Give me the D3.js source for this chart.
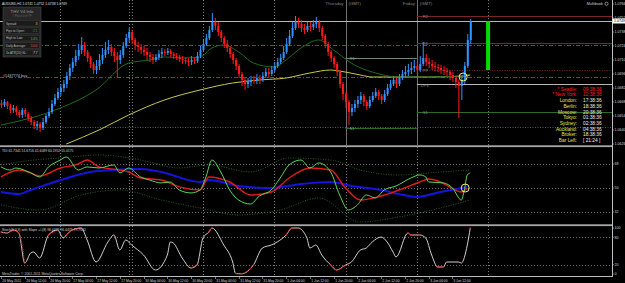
<!DOCTYPE html>
<html>
<head>
<meta charset="utf-8">
<script src="https://cdn.jsdelivr.net/npm/d3@7"></script>
<style>
html, body { margin: 0; padding: 0; background: #000; overflow: hidden; }
svg { display: block; font-family: "Liberation Sans", Arial, sans-serif; }
</style>
</head>
<body>
<div id="chart"></div>
<script>
// ---------- data ----------
const header = 'AUDUSD,H1  1.0741 1.0752 1.0738 1.0749'
const firstOpen = 1.0667
// H1 bars, 26 May 04:00 -> 3 Jun 18:00
const closes = [
  1.0665,1.0668,1.0664,1.0660,1.0662,1.0658,1.0655,1.0660,
  1.0656,1.0652,1.0648,1.0644,1.0646,1.0642,1.0648,1.0654,
  1.0658,1.0666,1.0672,1.0678,1.0682,1.0686,1.0694,1.0702,
  1.0708,1.0714,1.0720,1.0725,1.0718,1.0712,1.0706,1.0700,
  1.0704,1.0710,1.0715,1.0720,1.0723,1.0718,1.0714,1.0710,
  1.0715,1.0724,1.0732,1.0738,1.0730,1.0725,1.0723,1.0720,
  1.0718,1.0715,1.0713,1.0710,1.0713,1.0716,1.0718,1.0717,
  1.0719,1.0716,1.0714,1.0713,1.0711,1.0710,1.0709,1.0708,
  1.0710,1.0709,1.0714,1.0720,1.0726,1.0732,1.0740,1.0748,
  1.0744,1.0738,1.0732,1.0726,1.0722,1.0716,1.0710,1.0704,
  1.0696,1.0690,1.0686,1.0688,1.0690,1.0689,1.0692,1.0690,
  1.0694,1.0698,1.0696,1.0700,1.0704,1.0708,1.0712,1.0718,
  1.0726,1.0734,1.0742,1.0748,1.0746,1.0742,1.0740,1.0744,
  1.0743,1.0746,1.0748,1.0742,1.0734,1.0726,1.0718,1.0712,
  1.0706,1.0698,1.0686,1.0676,1.0668,1.0658,1.0662,1.0666,
  1.0670,1.0674,1.0668,1.0664,1.0670,1.0674,1.0678,1.0674,
  1.0670,1.0676,1.0682,1.0686,1.0690,1.0686,1.0692,1.0696,
  1.0698,1.0700,1.0702,1.0704,1.0700,1.0706,1.0712,1.0708,
  1.0706,1.0704,1.0703,1.0702,1.0700,1.0699,1.0698,1.0695,
  1.0692,1.0688,1.0684,1.0690,1.0704,1.0730,1.0749
]
const highs = [
  1.0670,1.0671,1.0669,1.0666,1.0665,1.0664,1.0660,1.0662,
  1.0662,1.0658,1.0654,1.0650,1.0649,1.0648,1.0652,1.0656,
  1.0662,1.0670,1.0676,1.0682,1.0686,1.0690,1.0698,1.0706,
  1.0712,1.0720,1.0726,1.0733,1.0728,1.0720,1.0714,1.0708,
  1.0710,1.0716,1.0722,1.0728,1.0730,1.0726,1.0722,1.0718,
  1.0720,1.0728,1.0736,1.0742,1.0740,1.0732,1.0728,1.0726,
  1.0724,1.0722,1.0718,1.0716,1.0716,1.0720,1.0722,1.0721,
  1.0722,1.0721,1.0718,1.0717,1.0715,1.0714,1.0713,1.0712,
  1.0714,1.0713,1.0718,1.0724,1.0730,1.0736,1.0744,1.0757,
  1.0752,1.0748,1.0740,1.0734,1.0730,1.0724,1.0718,1.0712,
  1.0706,1.0698,1.0692,1.0692,1.0694,1.0694,1.0696,1.0695,
  1.0698,1.0702,1.0702,1.0704,1.0708,1.0712,1.0716,1.0724,
  1.0732,1.0740,1.0748,1.0754,1.0752,1.0750,1.0746,1.0748,
  1.0748,1.0750,1.0753,1.0750,1.0744,1.0736,1.0728,1.0720,
  1.0714,1.0708,1.0700,1.0688,1.0678,1.0670,1.0666,1.0670,
  1.0674,1.0678,1.0676,1.0670,1.0674,1.0678,1.0682,1.0680,
  1.0676,1.0680,1.0686,1.0690,1.0694,1.0692,1.0696,1.0700,
  1.0704,1.0706,1.0708,1.0710,1.0708,1.0714,1.0728,1.0716,
  1.0712,1.0710,1.0708,1.0706,1.0705,1.0704,1.0702,1.0700,
  1.0698,1.0694,1.0690,1.0694,1.0708,1.0736,1.0751
]
const lows = [
  1.0662,1.0663,1.0661,1.0657,1.0657,1.0655,1.0652,1.0652,
  1.0653,1.0649,1.0645,1.0641,1.0640,1.0638,1.0640,1.0646,
  1.0652,1.0656,1.0664,1.0670,1.0674,1.0678,1.0682,1.0690,
  1.0698,1.0704,1.0710,1.0716,1.0714,1.0708,1.0702,1.0696,
  1.0696,1.0700,1.0706,1.0712,1.0716,1.0714,1.0708,1.0693,
  1.0706,1.0712,1.0722,1.0728,1.0726,1.0720,1.0718,1.0716,
  1.0714,1.0710,1.0708,1.0706,1.0708,1.0710,1.0712,1.0714,
  1.0715,1.0713,1.0711,1.0710,1.0708,1.0706,1.0706,1.0704,
  1.0705,1.0706,1.0707,1.0712,1.0718,1.0724,1.0730,1.0738,
  1.0740,1.0734,1.0728,1.0722,1.0718,1.0712,1.0706,1.0700,
  1.0692,1.0684,1.0680,1.0682,1.0684,1.0686,1.0686,1.0686,
  1.0688,1.0692,1.0692,1.0694,1.0698,1.0702,1.0706,1.0710,
  1.0716,1.0724,1.0732,1.0740,1.0742,1.0738,1.0736,1.0738,
  1.0739,1.0740,1.0742,1.0738,1.0730,1.0722,1.0714,1.0708,
  1.0702,1.0694,1.0682,1.0670,1.0662,1.0645,1.0654,1.0658,
  1.0662,1.0666,1.0664,1.0660,1.0662,1.0668,1.0672,1.0670,
  1.0666,1.0668,1.0674,1.0680,1.0684,1.0682,1.0684,1.0690,
  1.0692,1.0694,1.0696,1.0698,1.0696,1.0698,1.0704,1.0704,
  1.0702,1.0700,1.0699,1.0698,1.0696,1.0695,1.0694,1.0690,
  1.0688,1.0682,1.0652,1.0670,1.0686,1.0702,1.0726
]
const timeLabels = ['26 May 2011','26 May 12:00','26 May 20:00','27 May 04:00','27 May 12:00','27 May 20:00',
  '30 May 04:00','30 May 12:00','30 May 20:00','31 May 04:00','31 May 12:00','31 May 20:00',
  '1 Jun 04:00','1 Jun 12:00','1 Jun 20:00','2 Jun 04:00','2 Jun 12:00','2 Jun 20:00','3 Jun 04:00','3 Jun 12:00']
const daySeparators = [20, 43, 44, 68, 92, 116, 140, 164]
const priceTicks = [1.0766, 1.0752, 1.0738, 1.0724, 1.0710, 1.0696, 1.0682, 1.0668, 1.0654, 1.0640, 1.0626]

// moving averages [bar, price]
const maGreen = [[0,1.0645],[10,1.0652],[20,1.0662],[32,1.0680],[43,1.0707],[50,1.0710],[55,1.0713],[62,1.0712],
  [67,1.0713],[71,1.0722],[75,1.0725],[80,1.0718],[85,1.0707],[92,1.0703],[96,1.0710],[101,1.0722],[107,1.0730],
  [112,1.0720],[119,1.0705],[125,1.0698],[134,1.0693],[144,1.0693],[155,1.0694],[158,1.0696]]
const maYellow = [[22,1.0626],[33,1.0640],[43,1.0655],[55,1.0670],[67,1.0680],[78,1.0687],[87,1.0690],[96,1.0692],
  [104,1.0697],[111,1.0700],[114,1.0699],[121,1.0695],[125,1.0693],[134,1.0693],[144,1.0693],[156,1.0694],[158,1.0695]]

const orderLevels = [1.0725, 1.0693]
const orderLabel = '#1437774 buy'
const fridayPivots = [['R2', 1.0754], ['R1', 1.0727], ['PP', 1.0700], ['DPV', 1.0686], ['S1', 1.0658]]
const thursdayPivots = [['R1', 1.0712], ['S1', 1.0642]]
const supportLevel = 1.0643
const rangeTarget = [164, 1.0700, 1.0749]

// TDI [bar, value]
const tdiGreen = [[0,65.8],[3,63.5],[5,65],[10,61.3],[13,58.3],[16,65.8],[20,71],[22,73.3],[26,63.5],[29,65.8],[33,65],
  [38,67.3],[40,61.3],[43,65],[47,58.3],[50,56],[54,53.8],[57,54.5],[60,48.5],[64,46.3],[67,48.5],[69,58.3],[71,71],
  [74,62],[77,48.5],[80,41],[84,38],[87,44],[91,48.5],[94,57.5],[97,67.3],[101,71],[104,65],[107,68.8],[111,62],
  [114,44.8],[117,33.5],[120,37.3],[123,44.8],[126,42.5],[129,48.5],[133,51.5],[138,57.5],[141,59.8],[143,58.3],
  [144,54.5],[149,53.8],[152,50],[155,41],[156,48.5],[157,59.8],[158,61.3]]
const tdiRed = [[0,58.3],[6,63.5],[10,61.3],[13,59],[20,65],[26,68],[29,71],[33,65.8],[40,63.5],[43,62],[47,57.5],
  [54,56],[60,50.8],[67,48.5],[70,58.3],[77,54.5],[84,44.8],[91,47],[97,57.5],[104,65],[111,63.5],[116,50],[121,41],
  [128,44],[134,48.5],[141,54.5],[144,56.8],[148,54.5],[151,50.8],[155,47],[157,50]]
const tdiBlue = [[0,47],[6,45.5],[10,48.5],[20,56],[30,62],[37,63.5],[47,64.3],[54,62],[67,54.5],[70,56],[80,51.5],
  [91,50],[101,53],[111,54.5],[118,51.5],[128,48.5],[134,45.5],[140,43.3],[148,47],[157,50.8]]
const tdiUpper = [[0,67.3],[11,71],[20,72.5],[33,74.8],[47,71],[60,65],[70,67.3],[84,62],[97,72.5],[111,71],[121,63.5],
  [134,59.8],[148,62],[158,63.5]]
const tdiLower = [[0,37.3],[13,33.5],[27,44.8],[40,48.5],[54,41],[67,35],[80,29.8],[94,33.5],[107,42.5],[121,24.5],
  [134,28.3],[148,35],[158,41]]
const tdiLevels = [68, 50, 32]
const tdiTitle = 'TDI 61.7341 51.6716 41.6089 60.1952 55.0175'

// stochastic [bar, value]
const stoch = [[0,91.3],[2,89.1],[4,95.7],[6,89.1],[8,23.9],[10,45.7],[11,47.8],[13,34.8],[16,84.8],[19,95.7],[21,78.3],
  [22,84.8],[24,95.7],[27,100],[29,73.9],[32,26.1],[36,69.6],[38,84.8],[40,52.2],[42,73.9],[44,63],[48,41.3],[52,8.7],
  [56,41.3],[57,69.6],[58,67.4],[61,34.8],[64,13],[66,19.6],[68,78.3],[70,91.3],[71,100],[75,63],[78,26.1],[79,1],
  [81,0.5],[85,19.6],[88,56.5],[91,63],[93,69.6],[96,84.8],[98,100],[100,100],[103,78.3],[104,56.5],[106,63],[108,41.3],
  [111,19.6],[113,8.7],[116,19.6],[118,26.1],[121,52.2],[123,56.5],[125,69.6],[128,80.4],[130,69.6],[132,47.8],[133,37],
  [137,89.1],[138,84.8],[141,84.8],[143,78.3],[145,41.3],[147,15.2],[149,15.2],[150,26.1],[154,26.1],[155,23.9],
  [157,63],[158,100]]
const stochLevels = [100, 80, 20, 0]
const stochTitle = 'Stoch(3,3,3) with Slope +/-(8) 96.4479 96.4479 79.7632'

// info panel + clocks
const infoRows = ['Spread', 'Pips to Open', 'High to Low', 'Daily Average', '3x ATR(20) SL']
const infoValues = ['3', '21', '145', '100', '77']
const clockCities = ['* Seattle:', '* New York:', 'London:', 'Berlin:', 'Moscow:', 'Tokyo:', 'Sydney:', 'Auckland:', 'Broker:', 'Bar Left:']
const clockTimes = ['09:38:36', '12:38:36', '17:38:36', '18:38:36', '20:38:36', '01:38:36', '02:38:36', '04:38:36', '18:38:36', '[ 21:24 ]']

// ---------- drawing ----------
const W = 625, H = 283, AX = 612
const UP = '#3393ff', DN = '#ff1a1a'

const svg = d3.select('#chart').append('svg').attr('width', W).attr('height', H)
svg.append('rect').attr('width', W).attr('height', H).attr('fill', '#000')

//bar index -> pixel (2.97 px per H1 bar)
const x = d3.scaleLinear().domain([0, 1]).range([1, 3.97])
const yP = d3.scaleLinear().domain([1.0770, 1.0625]).range([0, 145])
const yT = d3.scaleLinear().domain([80, 23]).range([148, 224])
const yS = d3.scaleLinear().domain([100, 0]).range([228, 274])

const defs = svg.append('defs')
function clip(id, y0, y1) {
  defs.append('clipPath').attr('id', id).append('rect').attr('x', 0).attr('y', y0).attr('width', AX).attr('height', y1 - y0)
  return svg.append('g').attr('clip-path', 'url(#' + id + ')')
}
const gMain = clip('cMain', 0, 145)
const gTdi = clip('cTdi', 147, 224)
const gSto = clip('cSto', 226, 276)

// vertical day separators
;[[gMain, 0, 145], [gTdi, 147, 224], [gSto, 226, 276]].forEach(([g, a, b], k) => {
  g.selectAll('line.sep').data(daySeparators).enter().append('line')
    .attr('x1', d => Math.round(x(d)) + 0.5).attr('x2', d => Math.round(x(d)) + 0.5)
    .attr('y1', a).attr('y2', b)
    .attr('stroke', d => (k === 0 && (d === 116 || d === 140)) ? '#8c8c8c' : '#9a9a9a')
    .attr('stroke-dasharray', d => (k === 0 && (d === 116 || d === 140)) ? null : '1,2')
    .attr('stroke-width', 0.8)
})

// ---- main pane ----
const hline = (g, y, x0, color, dash, w) => g.append('line')
  .attr('x1', x0).attr('x2', AX).attr('y1', Math.round(y) + 0.5).attr('y2', Math.round(y) + 0.5)
  .attr('stroke', color).attr('stroke-dasharray', dash).attr('stroke-width', w || 1)

orderLevels.forEach(p => hline(gMain, yP(p), 0, '#2f6a2f', '4,2,1,2'))
hline(gMain, yP(supportLevel), 0, '#1f6f70', '1,1.5')

// thursday pivots
thursdayPivots.forEach(([n, p]) => {
  gMain.append('line').attr('x1', x(116)).attr('x2', x(140)).attr('y1', Math.round(yP(p)) + 0.5).attr('y2', Math.round(yP(p)) + 0.5)
    .attr('stroke', n === 'S1' ? '#2d6b2d' : '#6f8a6f')
  gMain.append('text').attr('x', x(116) + 4).attr('y', yP(p) + 1.5).text(n)
    .attr('fill', '#9a9a9a').attr('font-size', 4)
})
// friday pivots
fridayPivots.forEach(([n, p]) => {
  const col = n === 'DPV' ? '#b8b8b8' : (n === 'S1' ? '#2d6b2d' : '#7a2626')
  hline(gMain, yP(p), x(140), col, n === 'PP' ? '1,1.5' : null)
  gMain.append('text').attr('x', x(140) + (n === 'DPV' ? 4 : 6)).attr('y', yP(p) + (n === 'DPV' ? 2.5 : 1.5)).text(n)
    .attr('fill', '#8f8f8f').attr('font-size', 4)
})

// moving averages
const maLine = d3.line().x(d => x(d[0])).y(d => yP(d[1])).curve(d3.curveMonotoneX)
gMain.append('path').datum(maYellow).attr('d', maLine).attr('fill', 'none').attr('stroke', '#c9c94e').attr('stroke-width', 1)
gMain.append('path').datum(maGreen).attr('d', maLine).attr('fill', 'none').attr('stroke', '#1f6b1f').attr('stroke-width', 1)

// bid line
hline(gMain, yP(closes[closes.length - 1]), 0, '#b5b5b5', null)

// candles
const bars = closes.map((c, i) => ({ i, o: i ? closes[i - 1] : firstOpen, h: highs[i], l: lows[i], c }))
gMain.selectAll('line.wick').data(bars).enter().append('line')
  .attr('x1', d => x(d.i) + 0.5).attr('x2', d => x(d.i) + 0.5)
  .attr('y1', d => yP(Math.max(d.h, d.o, d.c))).attr('y2', d => yP(Math.min(d.l, d.o, d.c)))
  .attr('stroke', d => d.c >= d.o ? UP : DN).attr('stroke-width', 1)
gMain.selectAll('rect.body').data(bars).enter().append('rect')
  .attr('x', d => x(d.i) - 0.5).attr('width', 2)
  .attr('y', d => yP(Math.max(d.o, d.c)))
  .attr('height', d => Math.max(1, Math.abs(yP(d.o) - yP(d.c))))
  .attr('fill', d => d.c >= d.o ? UP : DN)

// projected range bar
gMain.append('rect').attr('x', x(rangeTarget[0]) - 2).attr('width', 4)
  .attr('y', yP(rangeTarget[2])).attr('height', yP(rangeTarget[1]) - yP(rangeTarget[2])).attr('fill', '#00dc00')

// signal circle
gMain.append('circle').attr('cx', x(155.6)).attr('cy', yP(orderLevels[1])).attr('r', 4)
  .attr('fill', 'none').attr('stroke', '#f4f08a').attr('stroke-width', 1)

// texts in main pane
svg.append('text').attr('x', 2).attr('y', 4.5).text(header).attr('fill', '#e0e0e0').attr('font-size', 3.4)
svg.append('text').attr('x', 3).attr('y', yP(orderLevels[1]) - 0.5).text(orderLabel).attr('fill', '#c8c8c8').attr('font-size', 3.8)
svg.append('text').attr('x', x(116) - 2).attr('y', 4.5).attr('text-anchor', 'end').text('Thursday').attr('fill', '#8a8a8a').attr('font-size', 4.3)
svg.append('text').attr('x', x(116) + 3).attr('y', 4.5).text('(GMT)').attr('fill', '#8a8a8a').attr('font-size', 4.3)
svg.append('text').attr('x', x(140) - 2).attr('y', 4.5).attr('text-anchor', 'end').text('Friday').attr('fill', '#8a8a8a').attr('font-size', 4.3)
svg.append('text').attr('x', x(140) + 3).attr('y', 4.5).text('(GMT)').attr('fill', '#8a8a8a').attr('font-size', 4.3)
svg.append('text').attr('x', 603).attr('y', 5).attr('text-anchor', 'end').text('Multibook').attr('fill', '#d0d0d0').attr('font-size', 3.8)
svg.append('circle').attr('cx', 606.5).attr('cy', 3.8).attr('r', 1.6).attr('fill', 'none').attr('stroke', '#d0d0d0').attr('stroke-width', 0.6)

// info panel
const info = svg.append('g')
info.append('rect').attr('x', 3).attr('y', 7).attr('width', 38).attr('height', 50).attr('fill', '#262626').attr('stroke', '#4a4a4a').attr('stroke-width', 0.6)
info.append('text').attr('x', 22).attr('y', 12.5).attr('text-anchor', 'middle').text('THV  V4  Info').attr('fill', '#9a9a9a').attr('font-size', 4.2)
info.append('text').attr('x', 22).attr('y', 16.5).attr('text-anchor', 'middle').text('# Pulse 0 in TF').attr('fill', '#6a6a6a').attr('font-size', 2.8)
const infoCol = ['#d9a21e', '#2e8f2e', '#4fa34f', '#c9603a', '#d6c43c']
infoRows.forEach((r, k) => {
  const yy = 20.5 + k * 7.4
  info.append('rect').attr('x', 4.5).attr('y', yy).attr('width', 35).attr('height', 5.6).attr('fill', '#1a1a1a').attr('stroke', '#3c3c3c').attr('stroke-width', 0.5)
  info.append('text').attr('x', 6).attr('y', yy + 4).text(r + ':').attr('fill', '#bdbdbd').attr('font-size', 3.1)
  info.append('text').attr('x', 37.5).attr('y', yy + 4.3).attr('text-anchor', 'end').text(infoValues[k]).attr('fill', infoCol[k]).attr('font-size', 4.2)
})

// world clocks
clockCities.forEach((c, k) => {
  const yy = 90.7 + k * 5.7
  const red = k < 2
  svg.append('text').attr('x', 577).attr('y', yy).attr('text-anchor', 'end').text(c)
    .attr('fill', red ? '#ff2020' : '#e6e65a').attr('font-size', 4.8)
  svg.append('text').attr('x', 583).attr('y', yy).text(clockTimes[k])
    .attr('fill', red ? '#ff2020' : '#f2f2f2').attr('font-size', 4.8)
})

// ---- TDI pane ----
tdiLevels.forEach(v => hline(gTdi, yT(v), 0, '#8a8a8a', '1,2', 0.8))
const tdiLine = d3.line().x(d => x(d[0])).y(d => yT(d[1])).curve(d3.curveMonotoneX)
;[tdiUpper, tdiLower].forEach(s => gTdi.append('path').datum(s).attr('d', tdiLine)
  .attr('fill', 'none').attr('stroke', '#2a6a2a').attr('stroke-dasharray', '1,1.5').attr('stroke-width', 0.9))
gTdi.append('path').datum(tdiBlue).attr('d', tdiLine).attr('fill', 'none').attr('stroke', '#1414e0').attr('stroke-width', 2)
gTdi.append('path').datum(tdiRed).attr('d', tdiLine).attr('fill', 'none').attr('stroke', '#e01c1c').attr('stroke-width', 1.4)
gTdi.append('path').datum(tdiGreen).attr('d', tdiLine).attr('fill', 'none').attr('stroke', '#5ad85a').attr('stroke-width', 1)
gTdi.append('circle').attr('cx', x(156.3)).attr('cy', yT(50)).attr('r', 4)
  .attr('fill', 'none').attr('stroke', '#f4f08a').attr('stroke-width', 1)
svg.append('text').attr('x', 2).attr('y', 151.5).text(tdiTitle).attr('fill', '#d8d8d8').attr('font-size', 3.4)

// ---- stochastic pane ----
;[80, 20].forEach(v => hline(gSto, yS(v), 0, '#8a8a8a', '1,2', 0.8))
const stLine = d3.line().x(d => x(d[0])).y(d => yS(d[1])).curve(d3.curveMonotoneX)
gSto.append('path').datum(stoch).attr('d', stLine).attr('fill', 'none').attr('stroke', '#e6e6e6').attr('stroke-width', 0.9)
const hot = d => d[1] >= 82 || d[1] <= 24
gSto.append('path').datum(stoch).attr('d', stLine.defined(hot)).attr('fill', 'none')
  .attr('stroke', '#e01c1c').attr('stroke-width', 1.1).attr('stroke-dasharray', '1.2,0.8')
gSto.selectAll('circle.hot').data(stoch.filter(hot)).enter().append('circle')
  .attr('cx', d => x(d[0])).attr('cy', d => yS(d[1])).attr('r', 0.7).attr('fill', '#e01c1c')
svg.append('text').attr('x', 2).attr('y', 230.5).text(stochTitle).attr('fill', '#d8d8d8').attr('font-size', 3.4)

// ---- pane frames ----
svg.append('rect').attr('x', 0).attr('y', 145.3).attr('width', AX).attr('height', 1.8).attr('fill', '#a8a8a8')
svg.append('rect').attr('x', 0).attr('y', 224.3).attr('width', AX).attr('height', 1.8).attr('fill', '#a8a8a8')
svg.append('line').attr('x1', 0).attr('x2', AX + 1).attr('y1', 276.5).attr('y2', 276.5).attr('stroke', '#bdbdbd')
svg.append('line').attr('x1', AX + 0.5).attr('x2', AX + 0.5).attr('y1', 0).attr('y2', 277).attr('stroke', '#bdbdbd')

// right axes
const axisLbl = (y, t) => {
  svg.append('line').attr('x1', AX).attr('x2', AX + 2).attr('y1', y).attr('y2', y).attr('stroke', '#bdbdbd').attr('stroke-width', 0.6)
  svg.append('text').attr('x', AX + 2.5).attr('y', y + 1.3).text(t).attr('fill', '#d8d8d8').attr('font-size', 3.6)
}
priceTicks.forEach(p => axisLbl(yP(p), p.toFixed(4)))
tdiLevels.forEach(v => axisLbl(yT(v), String(v)))
stochLevels.forEach(v => axisLbl(yS(v), String(v)))
const bid = closes[closes.length - 1]
svg.append('rect').attr('x', AX + 0.5).attr('y', yP(bid) - 2.5).attr('width', 12.5).attr('height', 5).attr('fill', '#ffffff')
svg.append('text').attr('x', AX + 2).attr('y', yP(bid) + 1.3).text(bid.toFixed(4)).attr('fill', '#000').attr('font-size', 3.6)

// time axis
timeLabels.forEach((t, k) => {
  const xx = Math.round(x(k * 8)) + 0.5
  svg.append('line').attr('x1', xx).attr('x2', xx).attr('y1', 276.5).attr('y2', 279).attr('stroke', '#bdbdbd').attr('stroke-width', 0.6)
  svg.append('text').attr('x', xx + 0.8).attr('y', 281.5).text(t).attr('fill', '#d8d8d8').attr('font-size', 3.3)
})
svg.append('text').attr('x', 2).attr('y', 274.8).text('MetaTrader, © 2001-2011 MetaQuotes Software Corp.').attr('fill', '#d0d0d0').attr('font-size', 3.4)
</script>
</body>
</html>
